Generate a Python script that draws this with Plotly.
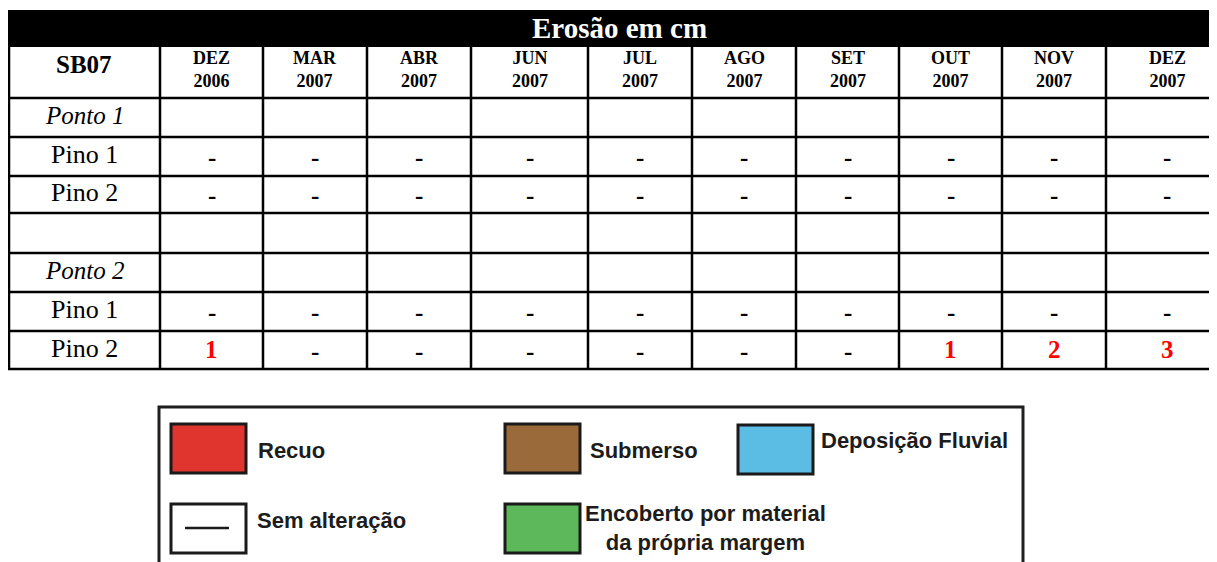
import plotly.graph_objects as go

# ---------------- data ----------------
title_text = "Erosão em cm"
station = "SB07"
months = ["DEZ", "MAR", "ABR", "JUN", "JUL", "AGO", "SET", "OUT", "NOV", "DEZ"]
years = ["2006", "2007", "2007", "2007", "2007", "2007", "2007", "2007", "2007", "2007"]
row_labels = ["Ponto 1", "Pino 1", "Pino 2", "", "Ponto 2", "Pino 1", "Pino 2"]
row_italic = [True, False, False, False, True, False, False]
# None = no change ("-"), "" = empty cell, number = erosion in cm
ponto1_header = ["", "", "", "", "", "", "", "", "", ""]
ponto1_pino1 = [None, None, None, None, None, None, None, None, None, None]
ponto1_pino2 = [None, None, None, None, None, None, None, None, None, None]
blank_row = ["", "", "", "", "", "", "", "", "", ""]
ponto2_header = ["", "", "", "", "", "", "", "", "", ""]
ponto2_pino1 = [None, None, None, None, None, None, None, None, None, None]
ponto2_pino2 = [1, None, None, None, None, None, None, 1, 2, 3]
table_rows = [ponto1_header, ponto1_pino1, ponto1_pino2, blank_row,
              ponto2_header, ponto2_pino1, ponto2_pino2]

legend_labels = ["Recuo", "Submerso", "Deposição Fluvial",
                 "Sem alteração", "Encoberto por material<br>da própria margem"]
legend_colors = ["#e0342f", "#9b6a3a", "#5bbde4", "#ffffff", "#5cb85a"]

# ---------------- layout geometry (pixels) ----------------
W, H = 1217, 562
OFF = 8  # page body margin offset
col_edges = [9, 160, 263, 367, 471, 588, 692, 796, 899, 1002, 1106, 1228]
band_top, band_bot = 10, 47
row_edges = [47, 98, 137, 176, 213, 253, 292, 331, 369]

serif = "Liberation Serif, Times New Roman, serif"
sans = "Liberation Sans, Arial, sans-serif"
LW = 2.5

shapes = []
annotations = []

# black title band
shapes.append(dict(type="rect", x0=8, x1=1240, y0=band_top, y1=band_bot,
                   fillcolor="black", line=dict(width=0), layer="above"))
annotations.append(dict(x=(col_edges[0] + col_edges[-1]) / 2 + 1, y=(band_top + band_bot) / 2 - 1,
                        text="<b>" + title_text + "</b>", showarrow=False,
                        font=dict(family=serif, size=29, color="white"),
                        xanchor="center", yanchor="middle"))

# horizontal grid lines
for y in row_edges[1:]:
    shapes.append(dict(type="line", x0=col_edges[0] - 1, x1=1240, y0=y, y1=y,
                       line=dict(color="black", width=LW)))
# vertical grid lines
for x in col_edges[:-1]:
    shapes.append(dict(type="line", x0=x, x1=x, y0=row_edges[0], y1=row_edges[-1],
                       line=dict(color="black", width=LW)))

def cx(i):
    return (col_edges[i] + col_edges[i + 1]) / 2

def cy(j):
    return (row_edges[j] + row_edges[j + 1]) / 2

# header row
annotations.append(dict(x=cx(0) - 1, y=cy(0) - 8, text="<b>" + station + "</b>", showarrow=False,
                        font=dict(family=serif, size=25, color="black"),
                        xanchor="center", yanchor="middle"))
for i, (m, yv) in enumerate(zip(months, years)):
    annotations.append(dict(x=cx(i + 1), y=cy(0) - 3, text="<b>" + m + "<br>" + yv + "</b>",
                            showarrow=False,
                            font=dict(family=serif, size=18, color="black"),
                            xanchor="center", yanchor="middle"))

# body rows
for j, (lab, ital, vals) in enumerate(zip(row_labels, row_italic, table_rows)):
    r = j + 1
    if lab:
        txt = "<i>" + lab + "</i>" if ital else lab
        annotations.append(dict(x=cx(0), y=cy(r) - 2, text=txt, showarrow=False,
                                font=dict(family=serif, size=26 if not ital else 25, color="black"),
                                xanchor="center", yanchor="middle"))
    for i, v in enumerate(vals):
        if v == "":
            continue
        if v is None:
            annotations.append(dict(x=cx(i + 1), y=cy(r) + 1, text="<b>-</b>", showarrow=False,
                                    font=dict(family=serif, size=25, color="black"),
                                    xanchor="center", yanchor="middle"))
        else:
            annotations.append(dict(x=cx(i + 1), y=cy(r) - 1, text="<b>" + str(v) + "</b>",
                                    showarrow=False,
                                    font=dict(family=serif, size=25, color="#ff0000"),
                                    xanchor="center", yanchor="middle"))

# legend frame
shapes.append(dict(type="rect", x0=159, x1=1023, y0=407, y1=620,
                   line=dict(color="#1e1e1e", width=3), fillcolor="white", layer="below"))

sw_x = [171, 505, 738, 171, 505]
sw_y = [424, 424, 425, 504, 504]
sw_w, sw_h = 75, 49
txt_pos = [(256, 450, "left"), (588, 450, "left"), (819, 440, "left"),
           (255, 520, "left"), (705, 528, "center")]
for lab, col, x0, y0, (tx, ty, ta) in zip(legend_labels, legend_colors, sw_x, sw_y, txt_pos):
    shapes.append(dict(type="rect", x0=x0, x1=x0 + sw_w, y0=y0, y1=y0 + sw_h,
                       fillcolor=col, line=dict(color="#1a1a1a", width=3)))
    if col == "#ffffff":
        shapes.append(dict(type="line", x0=x0 + 14, x1=x0 + 58, y0=y0 + 24, y1=y0 + 24,
                           line=dict(color="#1a1a1a", width=2.5)))
    xa = "left" if ta == "left" else "center"
    annotations.append(dict(x=tx, y=ty, text="<b>" + lab + "</b>", showarrow=False,
                            font=dict(family=sans, size=22, color="#1c1c1c"),
                            xanchor=xa, yanchor="middle", align=ta))

fig = go.Figure()
fig.add_trace(go.Scatter(x=[OFF, W], y=[OFF, H], mode="markers",
                         marker=dict(opacity=0), hoverinfo="skip", showlegend=False))
fig.update_layout(
    width=W, height=H,
    margin=dict(l=0, r=0, t=0, b=0),
    paper_bgcolor="white", plot_bgcolor="white",
    xaxis=dict(range=[OFF, W + OFF], visible=False, fixedrange=True),
    yaxis=dict(range=[H + OFF, OFF], visible=False, fixedrange=True),
    shapes=shapes, annotations=annotations, showlegend=False,
)
fig.write_html("out.html")
